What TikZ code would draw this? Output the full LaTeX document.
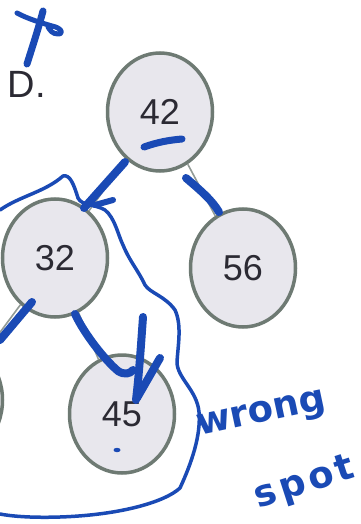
\documentclass[tikz,border=0pt]{standalone}
\usepackage{fontspec}
\setmainfont{Liberation Sans}
\newfontfamily\handfont{DejaVu Sans}
\usetikzlibrary{shapes.geometric}
\definecolor{ink}{RGB}{26,74,181}
\definecolor{nodefill}{RGB}{232,231,237}
\definecolor{nodeline}{RGB}{110,122,115}
\definecolor{txt}{RGB}{43,42,51}
\tikzset{
  bst/.style={ellipse, draw=nodeline, line width=3.5pt, fill=nodefill,
    inner sep=0pt, minimum width=105pt, minimum height=118pt,
    text=txt, font=\fontsize{36}{36}\selectfont},
  edge/.style={draw=nodeline!75, line width=1.6pt},
  pen/.style={ink, line width=8pt, line cap=round, line join=round},
  thinpen/.style={ink, line width=3.5pt, line cap=round, line join=round},
  hand/.style={text=ink, inner sep=0pt, font=\handfont\bfseries\fontsize{37}{37}\selectfont},
}
\begin{document}
\begin{tikzpicture}[x=1pt,y=-1pt]
\useasboundingbox (0,0) rectangle (360,524);
\fill[white] (0,0) rectangle (360,524);
\clip (0,0) rectangle (360,524);

% tree nodes
\node[bst] (n42) at (160,112) {42};
\node[bst] (n32) at (55,258) {32};
\node[bst] (n56) at (243,268) {56};
\node[bst] (n45) at (122,414) {45};
\node[bst] (nl)  at (-50,400) {};

% option label
\node[text=txt, font=\fontsize{38}{38}\selectfont, inner sep=0pt] (lbl) at (27,84) {D.};

% tree edges
\draw[edge] (n42) -- (n32);
\draw[edge] (n42) -- (n56);
\draw[edge] (n32) -- (nl);
\draw[edge] (n32) -- (n45);

% pen marks: cross at the top left
\draw[pen, line width=7pt] (43,11) .. controls (38,30) and (32,48) .. (27,64);
\draw[pen, line width=5pt] (17,13) .. controls (28,19) and (42,23) .. (52,26)
  .. controls (62,28) and (64,34) .. (58,34) .. controls (52,34) and (50,30) .. (48,27);

% underline of the root key
\draw[pen, line width=7pt] (144,147) .. controls (158,142) and (170,140) .. (182,139);

% traced path 42 -> 32
\draw[pen] (125,162) -- (84,208);
\draw[pen, line width=6pt] (95,205) -- (113,200);

% traced path 42 -> 56
\draw[pen] (186,178) .. controls (200,190) and (212,200) .. (219,212);

% traced path 32 -> left child
\draw[pen] (32,302) -- (0,340);

% traced path 32 -> 45 with arrow
\draw[pen] (75,314) .. controls (85,335) and (105,360) .. (118,371)
  .. controls (124,375) and (130,374) .. (133,370);
\draw[pen] (143,317) .. controls (141,345) and (139,375) .. (136,400);
\draw[pen] (160,358) -- (137,398);

% dot inside 45
\fill[ink] (117,450) ellipse (3.5 and 2.2);

% loop around the left subtree
\draw[thinpen] (0,210) .. controls (20,196) and (45,192) .. (63,176)
  .. controls (70,174) and (74,185) .. (78,198)
  .. controls (82,206) and (95,204) .. (105,210)
  .. controls (115,218) and (118,235) .. (123,245)
  .. controls (130,262) and (138,270) .. (145,285)
  .. controls (150,293) and (165,296) .. (175,310)
  .. controls (182,325) and (178,345) .. (177,362)
  .. controls (177,378) and (197,390) .. (199,412)
  .. controls (201,435) and (192,462) .. (180,488)
  .. controls (165,502) and (120,515) .. (60,517)
  .. controls (30,518) and (10,516) .. (0,514);

% handwritten remark
\node[hand, rotate=12] (w1) at (262,416) {wrong};
\node[hand, rotate=18] (w2) at (305,484) {\addfontfeature{LetterSpace=10}spot};
\end{tikzpicture}
\end{document}
